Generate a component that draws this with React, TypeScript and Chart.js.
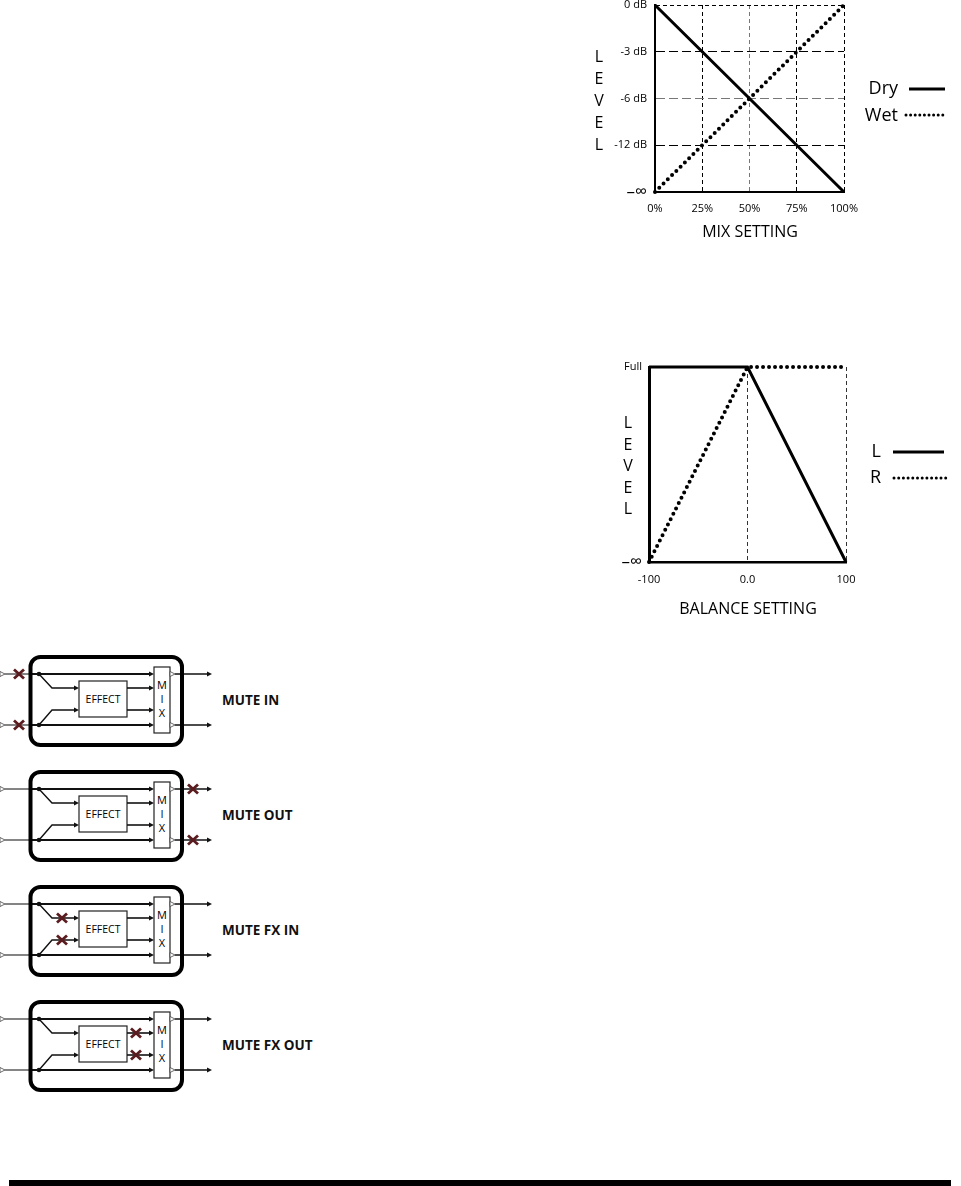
import React, { useEffect, useRef } from "react";
import { Chart, registerables } from "chart.js";

Chart.register(...registerables);

const FONT = '"Open Sans", "Noto Sans", "DejaVu Sans", sans-serif';

// ---- Mix chart data ----
const mixSettings = [0, 25, 50, 75, 100];
const mixTickLabels = ["0%", "25%", "50%", "75%", "100%"];
const mixLevelLabels = ["–∞", "-12 dB", "-6 dB", "-3 dB", "0 dB"]; // bottom -> top
const dryLevels = [4, 3, 2, 1, 0];
const wetLevels = [0, 1, 2, 3, 4];

// ---- Balance chart data ----
const balanceSettings = [-100, 0, 100];
const balanceTickLabels = ["-100", "0.0", "100"];
const balanceLevelLabels = ["–∞", "Full"]; // bottom -> top
const leftLevels = [1, 1, 0];
const rightLevels = [0, 1, 1];

// ---- Mute diagrams ----
const muteLabels = ["MUTE IN", "MUTE OUT", "MUTE FX IN", "MUTE FX OUT"];
const muteMarks = [
  [[19, 19], [19, 70]],
  [[193, 19], [193, 70]],
  [[62, 33], [62, 55]],
  [[136, 33], [136, 55]],
];

const sideLegend = {
  id: "sideLegend",
  afterDraw(chart: any, _args: any, opts: any) {
    const ctx = chart.ctx;
    chart.data.datasets.forEach((ds: any, i: number) => {
      const item = opts.items[i];
      if (!item) return;
      ctx.save();
      ctx.font = `${opts.fontSize}px ${FONT}`;
      ctx.fillStyle = "#000";
      ctx.textAlign = "right";
      ctx.textBaseline = "middle";
      ctx.fillText(ds.label, opts.textRight, item.ty);
      ctx.strokeStyle = ds.borderColor;
      ctx.lineWidth = item.width;
      ctx.setLineDash(item.dash || []);
      ctx.lineCap = ds.borderCapStyle || "butt";
      ctx.beginPath();
      ctx.moveTo(item.x1, item.y);
      ctx.lineTo(item.x2, item.y);
      ctx.stroke();
      ctx.restore();
    });
  },
};

// bigger glyph for the infinity tick (index 0), normal elsewhere
const yTickFont = (c: any) =>
  c.index === 0 ? { family: FONT, size: 17 } : { family: FONT, size: 11 };
const tickFont = { family: FONT, size: 11 };

function MixChart() {
  const ref = useRef<HTMLCanvasElement>(null);
  useEffect(() => {
    const chart = new Chart(ref.current as HTMLCanvasElement, {
      type: "line",
      data: {
        datasets: [
          {
            label: "Dry",
            data: mixSettings.map((x, i) => ({ x, y: dryLevels[i] })),
            borderColor: "#000",
            borderWidth: 3,
            pointRadius: 0,
            fill: false,
            clip: false,
          } as any,
          {
            label: "Wet",
            data: mixSettings.map((x, i) => ({ x, y: wetLevels[i] })),
            borderColor: "#000",
            borderWidth: 4,
            borderDash: [0, 6],
            borderCapStyle: "round",
            pointRadius: 0,
            fill: false,
            clip: false,
          } as any,
        ],
      },
      options: {
        responsive: false,
        animation: false,
        events: [],
        layout: { padding: { left: 0, top: 15, right: 116, bottom: 28 } },
        plugins: {
          legend: { display: false },
          tooltip: { enabled: false },
          sideLegend: {
            fontSize: 18,
            textRight: 328,
            items: [
              { ty: 99, y: 99, x1: 339, x2: 375, width: 3 },
              { ty: 126, y: 125, x1: 336, x2: 377, width: 3, dash: [0, 4.6] },
            ],
          },
        } as any,
        scales: {
          x: {
            type: "linear",
            min: 0,
            max: 100,
            afterFit: (s: any) => {
              s.height = 30;
            },
            afterBuildTicks: (s: any) => {
              s.ticks = mixSettings.map((v) => ({ value: v }));
            },
            ticks: {
              callback: (v: any) => mixTickLabels[mixSettings.indexOf(Number(v))],
              font: tickFont,
              color: "#000",
              padding: 10,
              maxRotation: 0,
              autoSkip: false,
            },
            grid: {
              color: (c: any) => (c.index === 2 ? "#777" : "#000"),
              lineWidth: 1,
              drawTicks: false,
            },
            border: { display: true, color: "#000", width: 2, dash: [4, 3] },
          } as any,
          y: {
            type: "linear",
            min: 0,
            max: 4,
            afterFit: (s: any) => {
              s.width = 85;
            },
            afterBuildTicks: (s: any) => {
              s.ticks = mixLevelLabels.map((_, i) => ({ value: i }));
            },
            ticks: {
              callback: (v: any) => mixLevelLabels[Number(v)],
              font: yTickFont,
              color: "#000",
              padding: 8,
              autoSkip: false,
            },
            grid: {
              color: (c: any) => (c.index === 2 ? "#777" : "#000"),
              lineWidth: 1,
              drawTicks: false,
            },
            border: {
              display: true,
              color: "#000",
              width: 2,
              dash: (c: any) => (c.index === 4 ? [4, 3] : [9, 4]),
            },
          } as any,
        },
      },
      plugins: [sideLegend as any],
    });
    return () => chart.destroy();
  }, []);
  return (
    <canvas
      ref={ref}
      width={390}
      height={260}
      style={{ position: "absolute", left: 570, top: -10, width: 390, height: 260 }}
    />
  );
}

function BalanceChart() {
  const ref = useRef<HTMLCanvasElement>(null);
  useEffect(() => {
    const chart = new Chart(ref.current as HTMLCanvasElement, {
      type: "line",
      data: {
        datasets: [
          {
            label: "L",
            data: balanceSettings.map((x, i) => ({ x, y: leftLevels[i] })),
            borderColor: "#000",
            borderWidth: 3,
            pointRadius: 0,
            fill: false,
            clip: false,
          } as any,
          {
            label: "R",
            data: balanceSettings.map((x, i) => ({ x, y: rightLevels[i] })),
            borderColor: "#000",
            borderWidth: 4,
            borderDash: [0, 6],
            borderCapStyle: "round",
            pointRadius: 0,
            fill: false,
            clip: false,
          } as any,
        ],
      },
      options: {
        responsive: false,
        animation: false,
        events: [],
        layout: { padding: { left: 0, top: 27, right: 114, bottom: 38 } },
        plugins: {
          legend: { display: false },
          tooltip: { enabled: false },
          sideLegend: {
            fontSize: 18,
            textRight: 311,
            items: [
              { ty: 112, y: 112, x1: 323, x2: 374, width: 3 },
              { ty: 138, y: 138, x1: 324, x2: 376, width: 3, dash: [0, 4.7] },
            ],
          },
        } as any,
        scales: {
          x: {
            type: "linear",
            min: -100,
            max: 100,
            afterFit: (s: any) => {
              s.height = 30;
            },
            afterBuildTicks: (s: any) => {
              s.ticks = balanceSettings.map((v) => ({ value: v }));
            },
            ticks: {
              callback: (v: any) => balanceTickLabels[balanceSettings.indexOf(Number(v))],
              font: tickFont,
              color: "#000",
              padding: 11,
              maxRotation: 0,
              autoSkip: false,
            },
            grid: { color: "#333", lineWidth: 1, drawTicks: false },
            border: { display: true, color: "#000", width: 2.5, dash: [4, 3] },
          } as any,
          y: {
            type: "linear",
            min: 0,
            max: 1,
            afterFit: (s: any) => {
              s.width = 79;
            },
            afterBuildTicks: (s: any) => {
              s.ticks = balanceLevelLabels.map((_, i) => ({ value: i }));
            },
            ticks: {
              callback: (v: any) => balanceLevelLabels[Number(v)],
              font: yTickFont,
              color: "#000",
              padding: 7,
              autoSkip: false,
            },
            grid: { display: false, drawTicks: false },
            border: { display: true, color: "#000", width: 3 },
          } as any,
        },
      },
      plugins: [sideLegend as any],
    });
    return () => chart.destroy();
  }, []);
  return (
    <canvas
      ref={ref}
      width={390}
      height={290}
      style={{ position: "absolute", left: 570, top: 340, width: 390, height: 290 }}
    />
  );
}

function StackedLetters({ x, y0, step, text }: { x: number; y0: number; step: number; text: string }) {
  return (
    <>
      {text.split("").map((ch, i) => (
        <div
          key={i}
          style={{
            position: "absolute",
            left: x,
            top: y0 + i * step,
            transform: "translate(-50%, -50%)",
            fontFamily: FONT,
            fontSize: 16,
            lineHeight: "18px",
            color: "#000",
          }}
        >
          {ch}
        </div>
      ))}
    </>
  );
}

function CenterText({ x, y, text, size }: { x: number; y: number; text: string; size: number }) {
  return (
    <div
      style={{
        position: "absolute",
        left: x,
        top: y,
        transform: "translate(-50%, -50%)",
        fontFamily: FONT,
        fontSize: size,
        lineHeight: `${size + 4}px`,
        whiteSpace: "nowrap",
        color: "#000",
      }}
    >
      {text}
    </div>
  );
}

const arrow = (tip: number, y: number, key: string) => (
  <polygon key={key} points={`${tip - 5},${y - 2.6} ${tip},${y} ${tip - 5},${y + 2.6}`} fill="#111" />
);

function Diagram({ label, marks }: { label: string; marks: number[][] }) {
  const line = "#111";
  return (
    <g>
      {/* inputs */}
      {[19, 70].map((y) => (
        <g key={"in" + y}>
          <polygon points={`0,${y - 2.5} 5,${y} 0,${y + 2.5}`} fill="#fff" stroke="#444" strokeWidth={0.8} />
          <line x1={5} y1={y} x2={31} y2={y} stroke="#333" strokeWidth={1.2} />
          <line x1={31} y1={y} x2={150} y2={y} stroke={line} strokeWidth={1.8} />
          {arrow(154, y, "a" + y)}
          <circle cx={39} cy={y} r={2.3} fill={line} />
        </g>
      ))}
      {/* branches to effect */}
      <polyline points="39,19 52,33 75,33" fill="none" stroke={line} strokeWidth={1.4} />
      <polyline points="39,70 52,55 75,55" fill="none" stroke={line} strokeWidth={1.4} />
      {arrow(79, 33, "e1")}
      {arrow(79, 55, "e2")}
      {/* effect box */}
      <rect x={79} y={26} width={48} height={36} fill="#fff" stroke="#222" strokeWidth={1.2} />
      <text x={103} y={48} textAnchor="middle" fontFamily={FONT} fontSize={10.5} fill="#000">
        EFFECT
      </text>
      {[33, 55].map((y) => (
        <g key={"eo" + y}>
          <line x1={127} y1={y} x2={150} y2={y} stroke={line} strokeWidth={1.6} />
          {arrow(154, y, "m" + y)}
        </g>
      ))}
      {/* mix box */}
      <rect x={154} y={12} width={16} height={66} fill="#fff" stroke="#222" strokeWidth={1.2} />
      {["M", "I", "X"].map((ch, i) => (
        <text key={ch} x={162} y={[34, 48, 62][i]} textAnchor="middle" fontFamily={FONT} fontSize={11} fill="#000">
          {ch}
        </text>
      ))}
      {/* outputs */}
      {[19, 70].map((y) => (
        <g key={"out" + y}>
          <line x1={175} y1={y} x2={208} y2={y} stroke={line} strokeWidth={1.6} />
          <polygon points={`170,${y - 2.5} 175,${y} 170,${y + 2.5}`} fill="#fff" stroke="#444" strokeWidth={0.8} />
          {arrow(212, y, "o" + y)}
        </g>
      ))}
      {/* outer frame */}
      <rect x={30.5} y={2} width={151.5} height={88} rx={10} ry={10} fill="none" stroke="#000" strokeWidth={4} />
      {/* mute marks */}
      {marks.map(([mx, my], i) => (
        <g key={"x" + i} stroke="#5a1c1e" strokeWidth={2.8}>
          <line x1={mx - 5} y1={my - 4.5} x2={mx + 5} y2={my + 4.5} />
          <line x1={mx - 5} y1={my + 4.5} x2={mx + 5} y2={my - 4.5} />
        </g>
      ))}
      <text x={222} y={50} fontFamily={FONT} fontWeight={700} fontSize={13.5} fill="#111">
        {label}
      </text>
    </g>
  );
}

export default function App() {
  return (
    <div
      style={{
        position: "absolute",
        left: 0,
        top: 0,
        width: 961,
        height: 1186,
        background: "#fff",
        overflow: "hidden",
      }}
    >
      <MixChart />
      <StackedLetters x={599} y0={56} step={22} text="LEVEL" />
      <CenterText x={750} y={231} text="MIX SETTING" size={16} />

      <BalanceChart />
      <StackedLetters x={628} y0={422} step={21.6} text="LEVEL" />
      <CenterText x={748} y={608} text="BALANCE SETTING" size={16} />

      <svg
        width={360}
        height={480}
        style={{ position: "absolute", left: 0, top: 640 }}
      >
        {muteLabels.map((label, i) => (
          <g key={label} transform={`translate(0, ${15 + 115 * i})`}>
            <Diagram label={label} marks={muteMarks[i]} />
          </g>
        ))}
      </svg>

      <div style={{ position: "absolute", left: 9, top: 1180, width: 942, height: 6, background: "#000" }} />
    </div>
  );
}
